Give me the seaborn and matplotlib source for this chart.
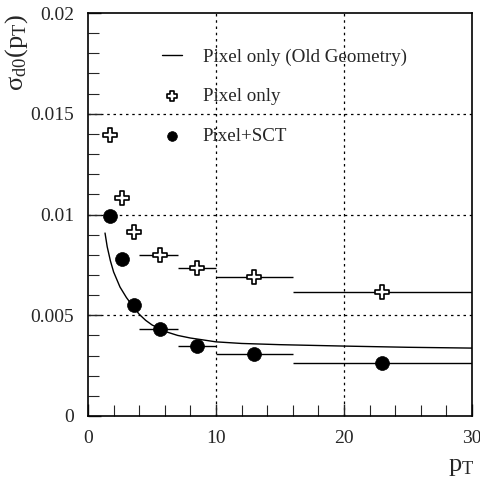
import matplotlib
matplotlib.use("Agg")
import matplotlib.pyplot as plt
from matplotlib.ticker import MultipleLocator, FixedLocator
import seaborn as sns
import pandas as pd

# Data
pt_bins = [1.75, 2.65, 3.6, 5.6, 8.5, 13.0, 23.0]
bin_lo = [None, None, None, 4.0, 7.0, 10.0, 16.0]
bin_hi = [None, None, None, 7.0, 10.0, 16.0, 30.0]
sigma_pixel = [0.01395, 0.01082, 0.00913, 0.00799, 0.00735, 0.00690, 0.00613]
sigma_pixel_sct = [0.00993, 0.00779, 0.00551, 0.00432, 0.00347, 0.00308, 0.00265]

pt_old = [1.33, 1.5, 1.75, 2.0, 2.5, 3.0, 3.5, 4.0, 4.5, 5.0, 6.0, 7.0, 8.0, 10.0, 12.0, 15.0, 20.0, 25.0, 30.0]
sigma_old = [0.00908, 0.00840, 0.00770, 0.00715, 0.00640, 0.00588, 0.00545, 0.00505, 0.00475, 0.00452,
             0.00420, 0.00400, 0.00387, 0.00368, 0.00360, 0.00354, 0.00347, 0.00341, 0.00337]

x_ticks = [0, 10, 20, 30]
x_ticklabels = ["0", "10", "20", "30"]
y_ticks = [0, 0.005, 0.01, 0.015, 0.02]
y_ticklabels = ["0", "0.005", "0.01", "0.015", "0.02"]

sns.set_style("ticks")
plt.rcParams["font.family"] = ["Liberation Serif", "DejaVu Serif"]
plt.rcParams["mathtext.fontset"] = "custom"
plt.rcParams["mathtext.rm"] = "Liberation Serif"
plt.rcParams["mathtext.it"] = "Liberation Serif"

fig = plt.figure(figsize=(4.81, 4.82), dpi=100)
ax = fig.add_axes([88 / 481, 1 - 416 / 482, (472 - 88) / 481, (416 - 13) / 482])

df_old = pd.DataFrame({"pt": pt_old, "sigma": sigma_old})
df_pix = pd.DataFrame({"pt": pt_bins, "sigma": sigma_pixel, "lo": bin_lo, "hi": bin_hi})
df_sct = pd.DataFrame({"pt": pt_bins, "sigma": sigma_pixel_sct, "lo": bin_lo, "hi": bin_hi})

# grid
for gx in [10, 20]:
    ax.axvline(gx, color="black", lw=0.9, ls=(0, (2, 3)), zorder=0)
for gy in [0.005, 0.01, 0.015]:
    ax.axhline(gy, color="black", lw=0.9, ls=(0, (2, 3)), zorder=0)

# error bars (horizontal bin widths)
for d in (df_pix, df_sct):
    dd = d.dropna()
    ax.hlines(dd["sigma"], dd["lo"], dd["hi"], color="black", lw=1.0, zorder=2)

sns.lineplot(data=df_old, x="pt", y="sigma", ax=ax, color="black", lw=1.0, zorder=3,
             label="Pixel only (Old Geometry)")
sns.scatterplot(data=df_pix, x="pt", y="sigma", ax=ax, marker="P", s=100, color="white",
                edgecolor="black", linewidth=1.2, zorder=4, label="Pixel only")
sns.scatterplot(data=df_sct, x="pt", y="sigma", ax=ax, marker="o", s=100, color="black",
                edgecolor="black", linewidth=0.5, zorder=4, label="Pixel+SCT")

ax.set_xlim(0, 30)
ax.set_ylim(0, 0.02)
ax.xaxis.set_major_locator(FixedLocator(x_ticks))
ax.set_xticklabels(x_ticklabels)
ax.yaxis.set_major_locator(FixedLocator(y_ticks))
ax.set_yticklabels(y_ticklabels)
ax.xaxis.set_minor_locator(MultipleLocator(2))
ax.yaxis.set_minor_locator(MultipleLocator(0.001))
ax.tick_params(axis="both", which="major", direction="in", length=9, width=1.0,
               labelsize=14, top=False, right=False)
ax.tick_params(axis="y", which="major", pad=10)
ax.tick_params(axis="x", which="major", pad=10)
ax.tick_params(axis="both", which="minor", direction="in", length=8, width=0.8,
               top=False, right=False)
for s in ax.spines.values():
    s.set_linewidth(1.2)
    s.set_color("black")

ax.set_xlabel("")
ax.set_ylabel("")
fig.text(17 / 481, 1 - 53 / 482, r"$\sigma_{\mathrm{d0}}(\mathrm{p_T})$", rotation=90,
         ha="center", va="center", fontsize=19)
fig.text(461 / 481, 1 - 467 / 482, r"$\mathrm{p_T}$", ha="center", va="center", fontsize=19)

leg = ax.legend(loc="upper left", bbox_to_anchor=(0.149, 0.955), frameon=False, fontsize=13.7,
                handlelength=1.05, handletextpad=1.07, labelspacing=1.18, markerscale=0.7)

fig.savefig("out.png", dpi=100)
